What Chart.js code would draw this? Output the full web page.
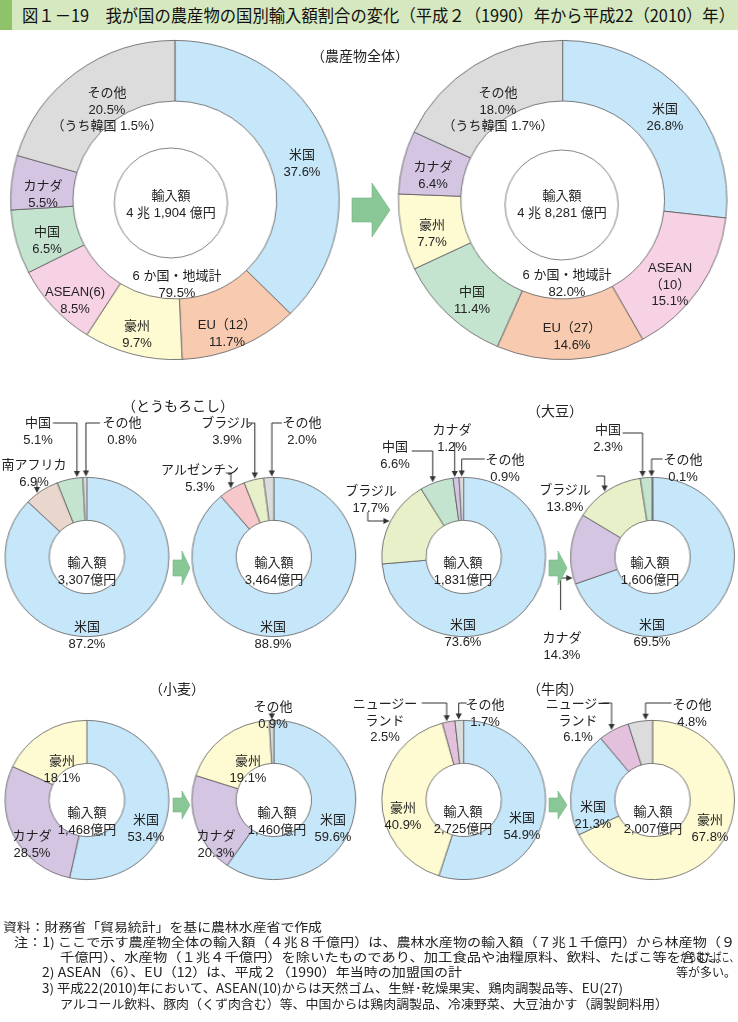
<!DOCTYPE html>
<html lang="ja">
<head>
<meta charset="UTF-8">
<title>我が国の農産物の国別輸入額割合の変化</title>
<script src="https://cdn.jsdelivr.net/npm/chart.js"></script>
<style>
    body {
        margin: 0;
        width: 738px;
        height: 1022px;
        position: relative;
        overflow: hidden;
        background: #fff;
        font-family: "Liberation Sans", "Noto Sans CJK JP", sans-serif;
        color: #222;
    }
    canvas.layer { position: absolute; left: 0; top: 0; }
    #titlebar { position: absolute; left: 0; top: 0; width: 738px; height: 30px; background: #d6e8bf; }
    #titlemark { position: absolute; left: 0; top: 0; width: 12px; height: 30px; background: #8fc36a; }
    .fit { position: absolute; white-space: nowrap; transform-origin: left center; }
    #title { left: 22px; top: 4px; font-family: "Noto Sans CJK JP", sans-serif; font-size: 17px; line-height: 22px; color: #111; }
    .head { position: absolute; transform: translate(-50%, -50%); font-family: "Noto Sans CJK JP", sans-serif; font-size: 14px; white-space: nowrap; }
    .lbl { position: absolute; transform: translate(-50%, -50%); text-align: center; white-space: nowrap; font-size: 13px; line-height: 16.5px; }
    .note { font-family: "Noto Sans CJK JP", sans-serif; font-size: 12.5px; line-height: 15px; color: #222; }
    #arrows { position: absolute; left: 0; top: 0; }
</style>
</head>
<body>
<div id="titlebar"><div id="titlemark"></div></div>
<div id="title" class="fit" data-w="713">図１－19　我が国の農産物の国別輸入額割合の変化（平成２（1990）年から平成22（2010）年）</div>

<canvas id="all1990" class="layer"></canvas>
<canvas id="all2010" class="layer"></canvas>
<canvas id="corn1990" class="layer"></canvas>
<canvas id="corn2010" class="layer"></canvas>
<canvas id="soy1990" class="layer"></canvas>
<canvas id="soy2010" class="layer"></canvas>
<canvas id="wheat1990" class="layer"></canvas>
<canvas id="wheat2010" class="layer"></canvas>
<canvas id="beef1990" class="layer"></canvas>
<canvas id="beef2010" class="layer"></canvas>

<svg id="arrows" width="738" height="1022">
    <g fill="#89c797" stroke="#73b383" stroke-width="0.6">
        <polygon points="352,198 372,198 372,183 390,210 372,237 372,222 352,222"/>
        <polygon points="173,560 182,560 182,551 190,568 182,585 182,576 173,576"/>
        <polygon points="549,560 558,560 558,551 567,568 558,585 558,576 549,576"/>
        <polygon points="173,798 182,798 182,791 190,805 182,819 182,812 173,812"/>
        <polygon points="549,798 558,798 558,791 567,805 558,819 558,812 549,812"/>
    </g>
</svg>

<div class="head" style="left:360px;top:55px">（農産物全体）</div>
<div class="head" style="left:178px;top:405px">（とうもろこし）</div>
<div class="head" style="left:555px;top:410px">（大豆）</div>
<div class="head" style="left:177px;top:688px">（小麦）</div>
<div class="head" style="left:555px;top:688px">（牛肉）</div>

<div class="fit note" style="left:3px;top:919px" data-w="319">資料：財務省「貿易統計」を基に農林水産省で作成</div>
<div class="fit note" style="left:14px;top:934px" data-w="721">注：1) ここで示す農産物全体の輸入額（４兆８千億円）は、農林水産物の輸入額（７兆１千億円）から林産物（９</div>
<div class="fit note" style="left:60px;top:949px" data-w="664">千億円）、水産物（１兆４千億円）を除いたものであり、加工食品や油糧原料、飲料、たばこ等を含む。</div>
<div class="fit note" style="left:680px;top:949px" data-w="58">からはたばこ、</div>
<div class="fit note" style="left:42px;top:964px" data-w="420">2) ASEAN（6）、EU（12）は、平成２（1990）年当時の加盟国の計</div>
<div class="fit note" style="left:676px;top:964px" data-w="60">等が多い。</div>
<div class="fit note" style="left:42px;top:980px" data-w="581">3) 平成22(2010)年において、ASEAN(10)からは天然ゴム、生鮮･乾燥果実、鶏肉調製品等、EU(27)</div>
<div class="fit note" style="left:60px;top:996px" data-w="608">アルコール飲料、豚肉（くず肉含む）等、中国からは鶏肉調製品、冷凍野菜、大豆油かす（調製飼料用）</div>

<script>
    // 農産物全体
    const allLabels1990 = ['米国', 'EU（12）', '豪州', 'ASEAN(6)', '中国', 'カナダ', 'その他'];
    const allValues1990 = [37.6, 11.7, 9.7, 8.5, 6.5, 5.5, 20.5];
    const allLabels2010 = ['米国', 'ASEAN\n（10）', 'EU（27）', '中国', '豪州', 'カナダ', 'その他'];
    const allValues2010 = [26.8, 15.1, 14.6, 11.4, 7.7, 6.4, 18.0];
    const korea1990 = 1.5;
    const korea2010 = 1.7;
    const sixTotal1990 = 79.5;
    const sixTotal2010 = 82.0;

    // とうもろこし
    const cornLabels1990 = ['米国', '南アフリカ', '中国', 'その他'];
    const cornValues1990 = [87.2, 6.9, 5.1, 0.8];
    const cornLabels2010 = ['米国', 'アルゼンチン', 'ブラジル', 'その他'];
    const cornValues2010 = [88.9, 5.3, 3.9, 2.0];

    // 大豆
    const soyLabels1990 = ['米国', 'ブラジル', '中国', 'カナダ', 'その他'];
    const soyValues1990 = [73.6, 17.7, 6.6, 1.2, 0.9];
    const soyLabels2010 = ['米国', 'カナダ', 'ブラジル', '中国', 'その他'];
    const soyValues2010 = [69.5, 14.3, 13.8, 2.3, 0.1];

    // 小麦
    const wheatLabels1990 = ['米国', 'カナダ', '豪州'];
    const wheatValues1990 = [53.4, 28.5, 18.1];
    const wheatLabels2010 = ['米国', 'カナダ', '豪州', 'その他'];
    const wheatValues2010 = [59.6, 20.3, 19.1, 0.9];

    // 牛肉
    const beefLabels1990 = ['米国', '豪州', 'ニュージー\nランド', 'その他'];
    const beefValues1990 = [54.9, 40.9, 2.5, 1.7];
    const beefLabels2010 = ['豪州', '米国', 'ニュージー\nランド', 'その他'];
    const beefValues2010 = [67.8, 21.3, 6.1, 4.8];

    // 輸入額
    const importTotals = {
        all1990: '4 兆 1,904 億円', all2010: '4 兆 8,281 億円',
        corn1990: '3,307億円', corn2010: '3,464億円',
        soy1990: '1,831億円', soy2010: '1,606億円',
        wheat1990: '1,468億円', wheat2010: '1,460億円',
        beef1990: '2,725億円', beef2010: '2,007億円'
    };

    const palette = {
        '米国': '#c6e6f9', 'EU': '#f8cbb1', '豪州': '#fefbd3', 'ASEAN': '#f6d2e4',
        '中国': '#c4e4d0', 'カナダ': '#d4c5e2', 'その他': '#dcdcdc', '南アフリカ': '#e9d6cd',
        'アルゼンチン': '#f6c8cc', 'ブラジル': '#e7f0c9', 'ニュージー': '#e3c0dc'
    };
    function colorOf(name) {
        const k = Object.keys(palette).find(k => name.startsWith(k));
        return palette[k];
    }

    const SX = 1.03; // 元図は横に少し伸びている
    const PAGE_H = 1022;
    const CANVAS_W = Math.round(738 / SX);

    // 矢印・中央の円
    const decor = {
        id: 'decor',
        afterDatasetsDraw(chart, args, opts) {
            const ctx = chart.ctx;
            const arc = chart.getDatasetMeta(0).data[0];
            const cx = arc.x, cy = arc.y, R = arc.outerRadius;
            ctx.save();
            if (opts.hub) {
                ctx.beginPath();
                ctx.arc(opts.hub[0] / SX, opts.hub[1], opts.hub[2], 0, Math.PI * 2);
                ctx.fillStyle = '#fff';
                ctx.fill();
                ctx.strokeStyle = '#666';
                ctx.lineWidth = 0.8;
                ctx.stroke();
            }
            ctx.strokeStyle = '#333';
            ctx.fillStyle = '#333';
            ctx.lineWidth = 1;
            (opts.leaders || []).forEach(l => {
                const pts = l.path.map(p => [p[0] / SX, p[1]]);
                const last = pts[pts.length - 1];
                let tip, dir;
                if (l.to === 'down') {
                    const dx = last[0] - cx;
                    tip = [last[0], cy - Math.sqrt(R * R - dx * dx) - 1];
                    dir = [0, 1];
                } else {
                    const dy = last[1] - cy;
                    tip = [cx - Math.sqrt(R * R - dy * dy) - 1, last[1]];
                    dir = [1, 0];
                }
                ctx.beginPath();
                ctx.moveTo(pts[0][0], pts[0][1]);
                pts.slice(1).forEach(p => ctx.lineTo(p[0], p[1]));
                ctx.lineTo(tip[0] - dir[0] * 5, tip[1] - dir[1] * 5);
                ctx.stroke();
                const bx = tip[0] - dir[0] * 6, by = tip[1] - dir[1] * 6;
                ctx.beginPath();
                ctx.moveTo(tip[0], tip[1]);
                ctx.lineTo(bx - dir[1] * 3, by + dir[0] * 3);
                ctx.lineTo(bx + dir[1] * 3, by - dir[0] * 3);
                ctx.closePath();
                ctx.fill();
            });
            ctx.restore();
        }
    };

    function addLabel(text, x, y) {
        const d = document.createElement('div');
        d.className = 'lbl';
        d.innerHTML = text.split('\n').join('<br>');
        d.style.left = x + 'px';
        d.style.top = y + 'px';
        document.body.appendChild(d);
    }

    function makeDonut(id, labels, values, place, positions, extras) {
        const canvas = document.getElementById(id);
        canvas.width = CANVAS_W;
        canvas.height = PAGE_H;
        // 表示幅はページ幅に広げる
        canvas.style.width = '738px';
        canvas.style.height = PAGE_H + 'px';
        const cx = place.cx / SX, cy = place.cy, r = place.r;
        new Chart(canvas, {
            type: 'doughnut',
            data: {
                labels: labels,
                datasets: [{
                    data: values,
                    backgroundColor: labels.map(colorOf),
                    borderColor: '#5c5c5c',
                    borderWidth: 0.8,
                    hoverOffset: 0
                }]
            },
            options: {
                responsive: false,
                animation: false,
                events: [],
                cutout: place.cut,
                layout: { padding: { left: cx - r, top: cy - r, right: CANVAS_W - cx - r, bottom: PAGE_H - cy - r } },
                plugins: { legend: { display: false }, tooltip: { enabled: false }, decor: extras || {} }
            },
            plugins: [decor]
        });
        labels.forEach((name, i) => {
            let text = name + '\n' + values[i].toFixed(1) + '%';
            if (extras && extras.other && name === 'その他') text += '\n' + extras.other;
            addLabel(text, positions[i][0], positions[i][1]);
        });
        addLabel('輸入額\n' + importTotals[id], place.tx, place.ty);
    }

    // 農産物全体
    makeDonut('all1990', allLabels1990, allValues1990,
        { cx: 175, cy: 200, r: 160, cut: '62%', tx: 171, ty: 204 },
        [[302, 163], [227, 333], [137, 334], [75, 300], [47, 240], [43, 194], [107, 110]],
        { hub: [171, 203, 55], other: '（うち韓国 ' + korea1990.toFixed(1) + '%）' });
    addLabel('6 か国・地域計\n' + sixTotal1990.toFixed(1) + '%', 177, 284);

    makeDonut('all2010', allLabels2010, allValues2010,
        { cx: 563, cy: 200, r: 160, cut: '62%', tx: 562, ty: 204 },
        [[665, 117], [670, 285], [572, 336], [472, 300], [432, 233], [433, 175], [498, 110]],
        { hub: [562, 205, 55], other: '（うち韓国 ' + korea2010.toFixed(1) + '%）' });
    addLabel('6 か国・地域計\n' + sixTotal2010.toFixed(1) + '%', 567, 283);

    // とうもろこし
    makeDonut('corn1990', cornLabels1990, cornValues1990,
        { cx: 87, cy: 557, r: 80, cut: '46%', tx: 87, ty: 571 },
        [[87, 635], [34, 473], [38, 431], [122, 431]],
        { leaders: [
            { path: [[53, 423], [77, 423]], to: 'down' },
            { path: [[100, 423], [86, 423]], to: 'down' },
            { path: [[37, 481]], to: 'down' }
        ] });
    makeDonut('corn2010', cornLabels2010, cornValues2010,
        { cx: 274, cy: 557, r: 80, cut: '46%', tx: 274, ty: 571 },
        [[273, 635], [200, 478], [227, 431], [302, 431]],
        { leaders: [
            { path: [[248, 423], [255, 423]], to: 'down' },
            { path: [[282, 423], [272, 423]], to: 'down' },
            { path: [[226, 473], [231, 473]], to: 'down' }
        ] });

    // 大豆
    makeDonut('soy1990', soyLabels1990, soyValues1990,
        { cx: 464, cy: 557, r: 80, cut: '46%', tx: 463, ty: 571 },
        [[463, 633], [371, 499], [395, 455], [452, 438], [505, 468]],
        { leaders: [
            { path: [[412, 451], [433, 451]], to: 'down' },
            { path: [[455, 442]], to: 'down' },
            { path: [[485, 459], [462, 459]], to: 'down' },
            { path: [[368, 512], [368, 521]], to: 'right' }
        ] });
    makeDonut('soy2010', soyLabels2010, soyValues2010,
        { cx: 653, cy: 557, r: 80, cut: '46%', tx: 650, ty: 571 },
        [[652, 633], [562, 646], [565, 498], [608, 438], [683, 468]],
        { leaders: [
            { path: [[623, 433], [643, 433]], to: 'down' },
            { path: [[663, 459], [652, 459]], to: 'down' },
            { path: [[597, 476], [605, 476]], to: 'down' },
            { path: [[561, 610], [561, 578]], to: 'right' }
        ] });

    // 小麦
    makeDonut('wheat1990', wheatLabels1990, wheatValues1990,
        { cx: 87, cy: 800, r: 80, cut: '46%', tx: 87, ty: 821 },
        [[146, 828], [32, 844], [62, 769]]);
    makeDonut('wheat2010', wheatLabels2010, wheatValues2010,
        { cx: 274, cy: 800, r: 80, cut: '46%', tx: 277, ty: 821 },
        [[333, 828], [216, 844], [248, 769], [273, 715]],
        { leaders: [{ path: [[272, 711]], to: 'down' }] });

    // 牛肉
    makeDonut('beef1990', beefLabels1990, beefValues1990,
        { cx: 464, cy: 800, r: 80, cut: '46%', tx: 463, ty: 820 },
        [[522, 826], [403, 816], [385, 721], [485, 713]],
        { leaders: [
            { path: [[422, 703], [447, 703]], to: 'down' },
            { path: [[467, 703], [459, 703]], to: 'down' }
        ] });
    makeDonut('beef2010', beefLabels2010, beefValues2010,
        { cx: 653, cy: 800, r: 80, cut: '46%', tx: 653, ty: 820 },
        [[710, 828], [593, 815], [578, 721], [692, 713]],
        { leaders: [
            { path: [[603, 703], [612, 703]], to: 'down' },
            { path: [[672, 703], [646, 703]], to: 'down' }
        ] });

    // 文字幅を元図に合わせる
    document.querySelectorAll('.fit').forEach(el => {
        const w = el.getBoundingClientRect().width;
        el.style.transform = 'scaleX(' + (el.dataset.w / w) + ')';
    });
</script>
</body>
</html>
